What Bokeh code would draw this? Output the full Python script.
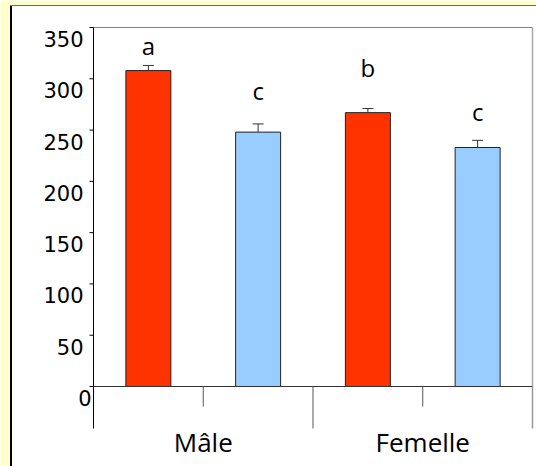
from bokeh.plotting import figure
from bokeh.models import Range1d, ColumnDataSource, Whisker, TeeHead
from bokeh.core.properties import value
from bokeh.embed import file_html
from bokeh.resources import INLINE

# ---- data ----
groups = ["Mâle", "Femelle"]
series_colors = ["#FF3300", "#99CCFF"]          # red series, blue series
red_values = [308, 267]
blue_values = [248, 233]
red_err = [5, 4]
blue_err = [8, 7]
letters = ["a", "c", "b", "c"]                   # order: Mâle red, Mâle blue, Femelle red, Femelle blue
letter_y = [332, 289, 311, 268]
y_ticks = [0, 50, 100, 150, 200, 250, 300, 350]
y_max = 350

# ---- layout constants (pixels) ----
W, H = 536, 466
X0, PX_X = 93, 109.75          # pixel of x=0, pixels per category slot
Y0, PX_Y = 386, 359 / 350      # pixel of y=0, pixels per unit
n_slots = 4


def dx(px):
    return (px - X0) / PX_X


def dy(py):
    return (Y0 - py) / PX_Y


# ---- build bar table ----
xs, tops, errs, colors = [], [], [], []
for gi in range(len(groups)):
    for si, (vals, ers) in enumerate([(red_values, red_err), (blue_values, blue_err)]):
        xs.append(gi * 2 + si + 0.5)
        tops.append(vals[gi])
        errs.append(ers[gi])
        colors.append(series_colors[si])
src = ColumnDataSource(dict(x=xs, top=tops, upper=[t + e for t, e in zip(tops, errs)],
                            color=colors, letter=letters, ly=letter_y))

p = figure(width=W, height=H, output_backend="svg", toolbar_location=None,
           x_range=Range1d(dx(0), dx(W)), y_range=Range1d(dy(H), dy(0)),
           x_axis_location=None, y_axis_location=None,
           min_border_left=0, min_border_right=0, min_border_top=0, min_border_bottom=0)
p.title = None
p.grid.visible = False
p.outline_line_color = None
p.background_fill_color = "#FFFFCC"
p.border_fill_color = "#FFFFCC"

# white panel with its border
p.quad(left=[dx(11)], right=[dx(W)], bottom=[dy(H)], top=[dy(5)],
       fill_color="white", line_color=None)
p.segment(x0=[dx(10.5)], y0=[dy(5)], x1=[dx(10.5)], y1=[dy(H)],
          line_color="black", line_width=2)
p.segment(x0=[dx(10)], y0=[dy(5)], x1=[dx(W)], y1=[dy(5)],
          line_color="#666666", line_width=1)

# plot frame (top & right in grey)
p.segment(x0=[0], y0=[y_max], x1=[n_slots], y1=[y_max], line_color="#808080", line_width=1)
p.segment(x0=[n_slots], y0=[0], x1=[n_slots], y1=[y_max], line_color="#A8A8A8", line_width=1.5)

# bars
p.vbar(x="x", top="top", width=0.41, bottom=0, fill_color="color",
       line_color="#222222", line_width=1, source=src)

wh = Whisker(base="x", lower="top", upper="upper", source=src,
             line_color="#333333", line_width=1,
             upper_head=TeeHead(size=11, line_color="#333333", line_width=1),
             lower_head=None, level="annotation")
p.add_layout(wh)

p.text(x="x", y="ly", text="letter", source=src, text_align="center",
       text_baseline="middle", text_font=value("Open Sans"),
       text_font_size="24px", text_color="black")

# y axis: line, ticks, labels
p.segment(x0=[0], y0=[0], x1=[0], y1=[y_max], line_color="black", line_width=1)
p.segment(x0=[dx(89)] * len(y_ticks), y0=y_ticks, x1=[0] * len(y_ticks), y1=y_ticks,
          line_color="black", line_width=1)
p.text(x=[dx(91) if v == 0 else dx(83) for v in y_ticks],
       y=[v - 11.5 / PX_Y for v in y_ticks],
       text=[str(v) for v in y_ticks], text_align="right", text_baseline="middle",
       text_font=value("DejaVu Sans"), text_font_size="21px", text_color="black")

# x axis: baseline, group separators, mid ticks, category labels
p.segment(x0=[0], y0=[0], x1=[n_slots], y1=[0], line_color="#333333", line_width=1)
seps = [0, 2, 4]
p.segment(x0=seps, y0=[0] * 3, x1=seps, y1=[dy(428)] * 3,
          line_color=["black", "#555555", "#999999"], line_width=[1, 1, 1.5])
mids = [1, 3]
p.segment(x0=mids, y0=[0] * 2, x1=mids, y1=[dy(406)] * 2,
          line_color="#555555", line_width=1)
p.text(x=[g * 2 + 1 for g in range(len(groups))], y=[dy(441)] * len(groups), text=groups,
       text_align="center", text_baseline="alphabetic",
       text_font=value("Open Sans"), text_font_size="26px", text_color="black")

open("out.html", "w").write(file_html(p, INLINE))
